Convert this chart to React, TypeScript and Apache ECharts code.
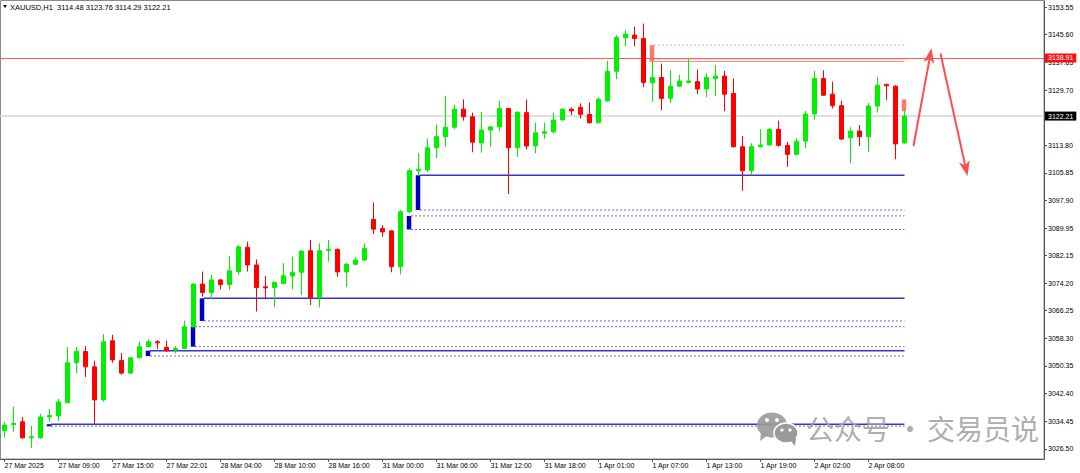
import React, { useEffect, useRef } from 'react';
import * as echarts from 'echarts';

const SYMBOL = 'XAUUSD,H1';
const FONT = '"Liberation Sans", Arial, sans-serif';

const TIME_LABELS = [
  '27 Mar 2025', '27 Mar 09:00', '27 Mar 15:00', '27 Mar 22:01', '28 Mar 04:00', '28 Mar 10:00',
  '28 Mar 16:00', '31 Mar 00:00', '31 Mar 06:00', '31 Mar 12:00', '31 Mar 18:00', '1 Apr 01:00',
  '1 Apr 07:00', '1 Apr 13:00', '1 Apr 19:00', '2 Apr 02:00', '2 Apr 08:00',
];
const LABEL_STEP = 6;
const SLOT_COUNT = 116;

const PRICE_TICKS = [
  3026.5, 3034.45, 3042.4, 3050.35, 3058.3, 3066.25, 3074.2, 3082.15, 3089.95,
  3097.9, 3105.85, 3113.8, 3121.75, 3129.7, 3137.65, 3145.6, 3153.55,
];
const PRICE_MIN = 3023.6;
const PRICE_MAX = 3155.3;

// [open, high, low, close]
const CANDLES: number[][] = [
  [3031.7, 3034.3, 3029.7, 3033.4], [3033.5, 3038.6, 3031.4, 3033.8], [3034.3, 3035.7, 3029.4, 3029.7],
  [3029.7, 3033.1, 3026.8, 3030.0], [3029.7, 3036.6, 3029.4, 3035.7], [3035.7, 3038.0, 3034.3, 3036.1],
  [3036.0, 3040.9, 3034.5, 3040.0], [3039.8, 3055.8, 3039.7, 3051.3], [3051.3, 3055.8, 3048.3, 3054.5],
  [3054.5, 3056.1, 3047.2, 3050.1], [3050.1, 3051.9, 3033.4, 3040.6], [3040.6, 3059.5, 3040.1, 3057.3],
  [3057.6, 3059.3, 3051.3, 3052.1], [3051.9, 3054.1, 3047.8, 3048.3], [3048.3, 3052.9, 3048.1, 3052.7],
  [3052.7, 3057.3, 3052.6, 3055.9], [3055.9, 3058.0, 3055.7, 3057.3], [3057.3, 3057.8, 3055.2, 3057.0],
  [3055.7, 3057.6, 3054.5, 3054.7], [3054.9, 3056.1, 3054.0, 3055.4], [3055.4, 3063.4, 3055.2, 3061.6],
  [3061.6, 3074.1, 3061.5, 3073.9], [3073.9, 3077.5, 3070.3, 3071.5], [3071.5, 3076.5, 3069.5, 3075.1],
  [3075.1, 3075.3, 3072.4, 3073.8], [3073.8, 3082.0, 3072.2, 3077.7], [3077.5, 3085.1, 3076.5, 3084.6],
  [3084.5, 3086.1, 3077.5, 3079.4], [3079.4, 3081.0, 3066.0, 3072.9], [3073.1, 3076.2, 3069.5, 3072.8],
  [3072.9, 3074.6, 3067.2, 3074.4], [3074.1, 3079.9, 3073.9, 3076.3], [3076.2, 3081.8, 3072.4, 3077.3],
  [3077.3, 3083.6, 3070.8, 3083.4], [3083.5, 3086.6, 3067.9, 3070.0], [3070.0, 3085.6, 3067.2, 3083.5],
  [3083.6, 3086.6, 3080.3, 3083.9], [3083.9, 3084.1, 3076.0, 3077.4], [3077.4, 3080.0, 3073.1, 3079.6],
  [3079.6, 3081.6, 3079.4, 3080.8], [3080.8, 3085.6, 3080.6, 3084.1], [3092.5, 3097.4, 3088.3, 3089.7],
  [3089.9, 3090.9, 3087.5, 3088.9], [3089.2, 3089.4, 3077.3, 3078.9], [3078.9, 3095.2, 3076.7, 3094.7],
  [3094.7, 3107.2, 3094.3, 3106.5], [3106.5, 3111.5, 3104.9, 3106.9], [3106.7, 3115.8, 3106.2, 3113.1],
  [3113.1, 3119.8, 3110.1, 3116.3], [3116.3, 3128.0, 3113.4, 3119.0], [3119.0, 3125.4, 3118.4, 3124.2],
  [3124.2, 3127.0, 3120.9, 3122.0], [3122.0, 3123.2, 3111.8, 3114.7], [3114.5, 3123.4, 3111.7, 3118.2],
  [3118.2, 3119.3, 3113.4, 3119.1], [3119.1, 3126.6, 3117.9, 3124.4], [3124.4, 3124.6, 3099.8, 3113.1],
  [3113.1, 3123.6, 3110.5, 3123.3], [3123.2, 3127.0, 3112.6, 3113.6], [3113.6, 3120.3, 3111.5, 3117.4],
  [3117.3, 3120.3, 3115.6, 3117.7], [3117.7, 3123.2, 3117.2, 3121.1], [3121.1, 3124.4, 3120.9, 3124.2],
  [3124.2, 3124.7, 3122.5, 3123.7], [3124.7, 3125.9, 3121.5, 3122.7], [3122.7, 3126.1, 3120.1, 3120.3],
  [3120.3, 3127.6, 3120.1, 3127.0], [3126.6, 3138.1, 3126.3, 3135.1], [3135.1, 3145.5, 3132.8, 3144.8],
  [3144.8, 3146.9, 3142.3, 3145.8], [3145.5, 3147.9, 3142.3, 3144.5], [3144.5, 3148.8, 3130.5, 3131.9],
  [3131.8, 3137.8, 3126.3, 3133.3], [3133.3, 3137.3, 3123.9, 3127.3], [3127.3, 3135.4, 3126.0, 3130.8],
  [3130.8, 3134.0, 3130.6, 3132.3], [3131.9, 3138.8, 3131.6, 3132.3], [3132.1, 3135.6, 3128.5, 3130.0],
  [3130.0, 3134.5, 3127.6, 3133.3], [3133.0, 3136.9, 3128.0, 3133.7], [3133.7, 3135.2, 3123.6, 3128.5],
  [3128.7, 3133.0, 3113.2, 3113.4], [3113.4, 3116.5, 3100.7, 3106.5], [3106.5, 3114.4, 3105.5, 3113.4],
  [3113.4, 3118.4, 3113.2, 3113.9], [3113.9, 3118.7, 3113.7, 3118.4], [3118.4, 3120.9, 3113.4, 3113.8],
  [3113.8, 3114.8, 3107.6, 3111.2], [3111.2, 3115.8, 3111.0, 3115.0], [3115.0, 3123.7, 3112.9, 3122.8],
  [3122.8, 3135.2, 3121.1, 3133.0], [3133.0, 3135.4, 3128.0, 3128.2], [3128.5, 3132.1, 3124.4, 3125.2],
  [3125.2, 3126.6, 3115.3, 3115.6], [3116.0, 3119.0, 3108.6, 3117.9], [3117.9, 3119.6, 3113.6, 3116.3],
  [3116.3, 3126.0, 3111.9, 3125.1], [3125.1, 3133.5, 3123.2, 3131.1], [3131.3, 3131.5, 3126.8, 3130.9],
  [3130.8, 3131.1, 3109.8, 3114.2], [3114.48, 3123.76, 3114.29, 3122.21],
];

const RESISTANCE_PRICE = 3138.91;
const LAST_PRICE = 3122.21;

// [candle index, low, high]
const BLUE_ZONES = [
  [5, 3033.0, 3033.6], [16, 3053.2, 3054.75], [21, 3055.9, 3061.65],
  [22, 3063.3, 3069.8], [45, 3089.6, 3093.5], [46, 3095.2, 3105.2],
];
const SALMON_ZONES = [[72, 3137.8, 3142.6], [100, 3123.6, 3127.0]];

// [start candle index, price]
const BLUE_SOLID_LEVELS = [[5, 3033.6], [16, 3054.75], [22, 3069.8], [46, 3105.2]];
const BLUE_DOTTED_LEVELS = [
  [5, 3033.05], [16, 3053.2], [21, 3061.65], [21, 3055.9],
  [22, 3063.3], [45, 3093.5], [45, 3089.6], [46, 3095.2],
];
const SALMON_SOLID_LEVELS = [[72, 3138.7], [72, 3137.9]];
const SALMON_DOTTED_LEVELS = [[72, 3142.6]];

// [from index, from price, to index, to price]
const ARROWS = [[101, 3113.6, 103, 3141.7], [104, 3140.2, 107, 3105.0]];

const WATERMARK_PARTS = ['公众号', '·', '交易员说'];

const LAST_INDEX = CANDLES.length - 1;

function buildOption(): any {
  const categories = Array.from({ length: SLOT_COUNT }, (_, i) =>
    i % LABEL_STEP === 0 && i / LABEL_STEP < TIME_LABELS.length ? TIME_LABELS[i / LABEL_STEP] : `#${i}`
  );
  const showLabel = (i: number) => i % LABEL_STEP === 0 && i / LABEL_STEP < TIME_LABELS.length;
  const kData = CANDLES.map(([o, h, l, c]) => [o, c, l, h]);
  const last = CANDLES[LAST_INDEX];
  const header = `${SYMBOL}  ${last.map((v) => v.toFixed(2)).join(' ')}`;

  const zoneSeries = (name: string, data: number[][], color: string) => ({
    type: 'custom',
    name,
    data,
    encode: { x: 0, y: [1, 2] },
    z: 4,
    renderItem: (_p: any, api: any) => {
      const x = api.value(0);
      const top = api.coord([x, api.value(2)]);
      const bot = api.coord([x, api.value(1)]);
      const w = 4.5;
      return {
        type: 'rect',
        shape: { x: top[0] - w / 2 - 0.5, y: top[1], width: w, height: Math.max(bot[1] - top[1], 2) },
        style: { fill: color },
      };
    },
  });

  const levelSeries = (name: string, data: number[][], color: string, width: number, dash: number[] | null) => ({
    type: 'custom',
    name,
    data,
    encode: { x: 0, y: 1 },
    z: 3,
    renderItem: (_p: any, api: any) => {
      const a = api.coord([api.value(0), api.value(1)]);
      const b = api.coord([LAST_INDEX, api.value(1)]);
      return {
        type: 'line',
        shape: { x1: a[0] + 1.5, y1: a[1], x2: b[0], y2: b[1] },
        style: { stroke: color, lineWidth: width, lineDash: dash || undefined },
      };
    },
  });

  const arrowSeries = {
    type: 'custom',
    name: 'arrows',
    data: ARROWS,
    encode: { x: [0, 2], y: [1, 3] },
    z: 6,
    renderItem: (_p: any, api: any) => {
      const p0 = api.coord([api.value(0), api.value(1)]);
      const p1 = api.coord([api.value(2), api.value(3)]);
      const ang = Math.atan2(p1[1] - p0[1], p1[0] - p0[0]);
      const cs = Math.cos(ang), sn = Math.sin(ang);
      const L = 15, W = 5.5;
      const bx = p1[0] - L * cs, by = p1[1] - L * sn;
      const nx = p1[0] - L * 0.72 * cs, ny = p1[1] - L * 0.72 * sn;
      const color = '#ff4d4d';
      return {
        type: 'group',
        children: [
          { type: 'line', shape: { x1: p0[0], y1: p0[1], x2: nx, y2: ny }, style: { stroke: color, lineWidth: 2 } },
          {
            type: 'polygon',
            shape: { points: [[p1[0], p1[1]], [bx - sn * W, by + cs * W], [nx, ny], [bx + sn * W, by - cs * W]] },
            style: { fill: color },
          },
        ],
      };
    },
  };

  const tagLabel = (text: string, bg: string) => ({
    show: true,
    position: 'end',
    distance: 1,
    formatter: text,
    color: '#ffffff',
    backgroundColor: bg,
    padding: [1, 3, 0, 3],
    fontSize: 7,
    lineHeight: 8,
    fontFamily: FONT,
  });

  const grey = '#9a9a9a';
  const wm = { fill: grey, opacity: 0.9 };
  const wmText = (text: string, x: number, align: string) => ({
    type: 'text', z: 20, silent: true, x, y: 428,
    style: {
      text, fontSize: 28, fontFamily: '"Noto Sans CJK SC", sans-serif', fill: '#a3a3a3',
      verticalAlign: 'middle', align, opacity: 0.9,
    },
  });

  return {
    animation: false,
    backgroundColor: '#ffffff',
    grid: { left: -1.5, right: 36, top: 1, bottom: 14, containLabel: false },
    xAxis: {
      type: 'category',
      data: categories,
      boundaryGap: true,
      axisLine: { show: true, lineStyle: { color: '#555555', width: 1 } },
      axisTick: { show: true, interval: showLabel, alignWithLabel: true, length: 3, lineStyle: { color: '#555555' } },
      axisLabel: {
        interval: showLabel,
        align: 'left',
        fontSize: 7,
        color: '#000000',
        margin: 3,
        fontFamily: FONT,
      },
      splitLine: { show: false },
    },
    yAxis: {
      type: 'value',
      position: 'right',
      min: PRICE_MIN,
      max: PRICE_MAX,
      axisLine: { show: true, lineStyle: { color: '#555555', width: 1 } },
      axisTick: { show: true, customValues: PRICE_TICKS, length: 3, lineStyle: { color: '#555555' } },
      axisLabel: {
        customValues: PRICE_TICKS,
        formatter: (v: number) => v.toFixed(2),
        fontSize: 7,
        color: '#000000',
        margin: 4,
        fontFamily: FONT,
      },
      splitLine: { show: false },
    },
    series: [
      {
        type: 'candlestick',
        name: SYMBOL,
        data: kData,
        barWidth: 5,
        z: 5,
        itemStyle: {
          color: '#00f000',
          color0: '#ff0000',
          borderColor: '#00f000',
          borderColor0: '#ff0000',
          borderWidth: 1,
        },
        markLine: {
          silent: true,
          symbol: ['none', 'none'],
          animation: false,
          data: [
            {
              yAxis: RESISTANCE_PRICE,
              lineStyle: { color: '#ff5a5a', width: 1, type: 'solid' },
              label: tagLabel(RESISTANCE_PRICE.toFixed(2), '#ff1010'),
            },
            {
              yAxis: LAST_PRICE,
              lineStyle: { color: '#d6d6d6', width: 1.5, type: 'solid' },
              label: tagLabel(LAST_PRICE.toFixed(2), '#000000'),
            },
          ],
        },
      },
      levelSeries('blue-solid', BLUE_SOLID_LEVELS, '#3535d0', 1.5, null),
      levelSeries('blue-dotted', BLUE_DOTTED_LEVELS, '#6a6ae0', 1, [2, 2]),
      levelSeries('salmon-solid', SALMON_SOLID_LEVELS, '#ff8a80', 1.2, null),
      levelSeries('salmon-dotted', SALMON_DOTTED_LEVELS, '#ffa8a0', 1, [2, 2]),
      zoneSeries('blue-zones', BLUE_ZONES, '#0000c4'),
      zoneSeries('salmon-zones', SALMON_ZONES, '#ff7a68'),
      arrowSeries,
    ],
    graphic: [
      {
        type: 'rect',
        z: -1,
        silent: true,
        shape: { x: 0.5, y: 0.5, width: 1043.5, height: 458.5 },
        style: { fill: 'none', stroke: '#8a8a8a', lineWidth: 1 },
      },
      {
        type: 'polygon',
        z: 10,
        silent: true,
        shape: { points: [[3, 5], [7, 5], [5, 8]] },
        style: { fill: '#000000' },
      },
      {
        type: 'text',
        z: 10,
        silent: true,
        x: 10,
        y: 7,
        style: { text: header, fontSize: 7.5, fontFamily: FONT, fill: '#000000', verticalAlign: 'middle' },
      },
      // watermark
      { type: 'ellipse', z: 20, silent: true, shape: { cx: 772, cy: 425, rx: 15, ry: 12.5 }, style: wm },
      { type: 'polygon', z: 20, silent: true, shape: { points: [[761, 432], [768, 435], [760, 441]] }, style: wm },
      { type: 'circle', z: 21, silent: true, shape: { cx: 767, cy: 420, r: 2 }, style: { fill: '#ffffff' } },
      { type: 'circle', z: 21, silent: true, shape: { cx: 777, cy: 420, r: 2 }, style: { fill: '#ffffff' } },
      {
        type: 'ellipse', z: 22, silent: true, shape: { cx: 786, cy: 433, rx: 12, ry: 10 },
        style: { fill: grey, stroke: '#ffffff', lineWidth: 1.5 },
      },
      { type: 'polygon', z: 22, silent: true, shape: { points: [[790, 440], [796, 438], [795, 446]] }, style: { fill: grey } },
      { type: 'circle', z: 23, silent: true, shape: { cx: 782, cy: 430, r: 1.6 }, style: { fill: '#ffffff' } },
      { type: 'circle', z: 23, silent: true, shape: { cx: 790, cy: 430, r: 1.6 }, style: { fill: '#ffffff' } },
      wmText(WATERMARK_PARTS[0], 806, 'left'),
      wmText(WATERMARK_PARTS[1], 910, 'center'),
      wmText(WATERMARK_PARTS[2], 927, 'left'),
    ],
  };
}

export default function App() {
  const ref = useRef<HTMLDivElement>(null);
  useEffect(() => {
    if (!ref.current) return;
    const chart = echarts.init(ref.current, null, { renderer: 'svg' });
    chart.setOption(buildOption());
    return () => chart.dispose();
  }, []);
  return (
    <div
      ref={ref}
      style={{ position: 'fixed', left: 0, top: 0, width: 1080, height: 473, background: '#ffffff' }}
    />
  );
}
